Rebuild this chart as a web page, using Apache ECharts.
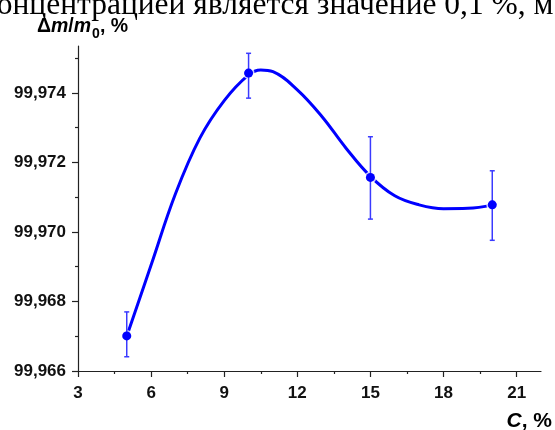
<!DOCTYPE html>
<html>
<head>
<meta charset="utf-8">
<script src="https://cdn.jsdelivr.net/npm/echarts@6/dist/echarts.min.js"></script>
<style>
html,body{margin:0;padding:0;background:#fff;}
#chart{width:555px;height:430px;}
</style>
</head>
<body>
<div id="chart"></div>
<script>
// measured points with error bars
const concX = [5, 10, 15, 20];
const massY = [99.96701, 99.97457, 99.97157, 99.97078];
const errLow = [99.96641, 99.97385, 99.97037, 99.96976];
const errHigh = [99.96770, 99.97514, 99.97274, 99.97176];

// fitted curve
const curveX = [5, 6, 7, 8, 9, 10, 10.5, 11, 12, 13, 14, 15, 16, 17, 18, 19, 20];
const curveY = [99.96700, 99.96905, 99.97110, 99.97270, 99.97378, 99.97452, 99.97466, 99.97461,
                99.97409, 99.97333, 99.97241, 99.97160, 99.97104, 99.97078, 99.97067, 99.97068, 99.97078];

// ticks
const xMajor = [3, 6, 9, 12, 15, 18, 21];
const xMinor = [4.5, 7.5, 10.5, 13.5, 16.5, 19.5];
const yMajor = [99.966, 99.968, 99.970, 99.972, 99.974];
const yMinor = [99.967, 99.969, 99.971, 99.973, 99.975];

const X_MIN = 3, X_MAX = 22, Y_MIN = 99.966, Y_MAX = 99.97535;

const chart = echarts.init(document.getElementById('chart'));
const axisColor = '#222';
const FONT = 'Liberation Sans, Arial, sans-serif';

const baseX = {
  type: 'value', min: X_MIN, max: X_MAX, interval: 3, position: 'bottom',
  splitLine: {show: false},
  axisLine: {show: true, onZero: false, lineStyle: {color: axisColor, width: 1.2}}
};
const baseY = {
  type: 'value', min: Y_MIN, max: Y_MAX, interval: 0.002, position: 'left',
  splitLine: {show: false},
  axisLine: {show: true, onZero: false, lineStyle: {color: axisColor, width: 1.2}}
};

const option = {
  animation: false,
  backgroundColor: '#fff',
  grid: {left: 78, top: 46, right: 14, bottom: 59, containLabel: false},
  xAxis: [
    Object.assign({}, baseX, {
      axisTick: {show: true, inside: false, length: 6, customValues: xMajor, lineStyle: {color: axisColor, width: 1.2}},
      axisLabel: {customValues: xMajor, margin: 14, color: '#111', fontSize: 17, fontWeight: 'bold', fontFamily: FONT}
    }),
    Object.assign({}, baseX, {
      axisLine: {show: false},
      axisTick: {show: true, inside: false, length: 3, customValues: xMinor, lineStyle: {color: axisColor, width: 1.2}},
      axisLabel: {show: false}
    })
  ],
  yAxis: [
    Object.assign({}, baseY, {
      axisTick: {show: true, inside: false, length: 6, customValues: yMajor, lineStyle: {color: axisColor, width: 1.2}},
      axisLabel: {customValues: yMajor, margin: 12, color: '#111', fontSize: 17, fontWeight: 'bold', fontFamily: FONT,
        formatter: v => v.toFixed(3).replace('.', ',')}
    }),
    Object.assign({}, baseY, {
      axisLine: {show: false},
      axisTick: {show: true, inside: false, length: 3, customValues: yMinor, lineStyle: {color: axisColor, width: 1.2}},
      axisLabel: {show: false}
    })
  ],
  graphic: [
    {
      type: 'text', left: -17, top: -10, silent: true,
      style: {text: 'концентрацией является значение 0,1 %, м', fontFamily: 'Liberation Serif, Times New Roman, serif',
        fontSize: 31.5, fill: '#000'}
    },
    {
      type: 'text', left: 37, top: 17, silent: true,
      style: {
        text: '{b|Δ}{i|m}{b|/}{i|m}{s|0}{b|, %}',
        rich: {
          b: {fontFamily: FONT, fontSize: 19.5, fontWeight: 'bold', fill: '#000', lineHeight: 22},
          i: {fontFamily: FONT, fontSize: 19.5, fontWeight: 'bold', fontStyle: 'italic', fill: '#000', lineHeight: 22},
          s: {fontFamily: FONT, fontSize: 14, fontWeight: 'bold', fill: '#000', lineHeight: 22, verticalAlign: 'bottom', padding: [0, 0, -3, 1]}
        }
      }
    },
    {
      type: 'text', right: 3, top: 411, silent: true,
      style: {
        text: '{i|C}{b|, %}',
        rich: {
          b: {fontFamily: FONT, fontSize: 21, fontWeight: 'bold', fill: '#000'},
          i: {fontFamily: FONT, fontSize: 21, fontWeight: 'bold', fontStyle: 'italic', fill: '#000'}
        }
      }
    }
  ],
  series: [
    {
      type: 'line', z: 2,
      data: curveX.map((x, i) => [x, curveY[i]]),
      smooth: 0.4, showSymbol: false, symbol: 'none',
      lineStyle: {color: '#0000ff', width: 3},
      silent: true
    },
    {
      type: 'scatter', z: 3,
      data: concX.map((x, i) => [x, massY[i]]),
      symbol: 'circle', symbolSize: 9,
      itemStyle: {color: '#0000ff', borderColor: '#fff', borderWidth: 3},
      silent: true
    },
    {
      type: 'custom', z: 4, silent: true,
      data: concX.map((x, i) => [x, errLow[i], errHigh[i]]),
      renderItem: function (params, api) {
        const lo = api.coord([api.value(0), api.value(1)]);
        const hi = api.coord([api.value(0), api.value(2)]);
        const c = api.coord([api.value(0), massY[params.dataIndex]]);
        const w = 2.5;
        const st = {stroke: '#3a3aff', lineWidth: 1.5};
        return {
          type: 'group',
          children: [
            {type: 'line', shape: {x1: lo[0], y1: lo[1], x2: hi[0], y2: hi[1]}, style: st},
            {type: 'line', shape: {x1: lo[0] - w, y1: lo[1], x2: lo[0] + w, y2: lo[1]}, style: st},
            {type: 'line', shape: {x1: hi[0] - w, y1: hi[1], x2: hi[0] + w, y2: hi[1]}, style: st},
            {type: 'circle', shape: {cx: c[0], cy: c[1], r: 4.5}, style: {fill: '#0000ff'}}
          ]
        };
      }
    }
  ]
};
chart.setOption(option);
</script>
</body>
</html>
